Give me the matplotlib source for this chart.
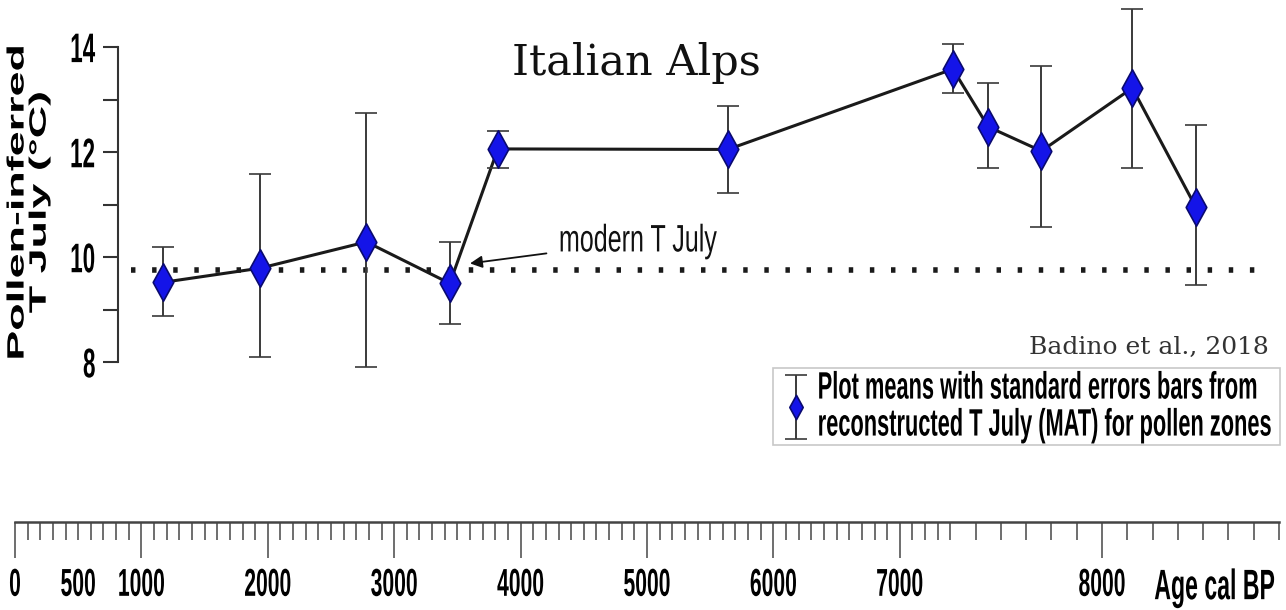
import numpy as np
import matplotlib
matplotlib.use('Agg')
import matplotlib.pyplot as plt
from matplotlib.patheffects import AbstractPathEffect
from matplotlib.path import Path
from matplotlib.transforms import Affine2D
from matplotlib.ticker import FuncFormatter
from matplotlib.legend_handler import HandlerErrorbar

# pollen zones: age (cal BP), mean July T and the ends of the standard error bars
age = [1170, 1940, 2780, 3440, 3820, 5640, 7410, 7550, 7760, 8120, 8370]
t_july = [9.52, 9.79, 10.29, 9.50, 12.06, 12.05, 13.58, 12.48, 12.02, 13.22, 10.96]
t_low = [8.88, 8.10, 7.90, 8.72, 11.70, 11.22, 13.12, 11.70, 10.57, 11.70, 9.47]
t_high = [10.19, 11.58, 12.75, 10.29, 12.40, 12.88, 14.06, 13.32, 13.64, 14.72, 12.52]
modern_t = 9.75

age_ticks = [0, 1000, 2000, 3000, 4000, 5000, 6000, 7000, 8000]
age_labels = ['0', '1000', '2000', '3000', '4000', '5000', '6000', '7000', '8000']
t_ticks = [8, 10, 12, 14]
t_minor = [9, 11, 13]

W, H = 1286, 610

# the age axis of the source is drawn twice as wide above 7400 BP
KNEE = 7400
def fwd(a):
    a = np.asarray(a, float)
    return np.where(a <= KNEE, a, KNEE + 2 * (a - KNEE))

def inv(p):
    p = np.asarray(p, float)
    return np.where(p <= KNEE, p, KNEE + (p - KNEE) / 2)


class Stretch(AbstractPathEffect):
    """scale the glyphs about their own centre (source figure was resized unevenly)"""
    def __init__(self, sx=1.0, sy=1.0):
        super().__init__()
        self.sx, self.sy = sx, sy

    def draw_path(self, renderer, gc, tpath, affine, rgbFace=None):
        bb = tpath.get_extents(affine)
        cx, cy = bb.x0 + bb.width / 2, bb.y0 + bb.height / 2
        st = Affine2D().translate(-cx, -cy).scale(self.sx, self.sy).translate(cx, cy)
        renderer.draw_path(gc, tpath, affine + st, rgbFace)


tall = [Stretch(0.95, 1.75)]
SANS = ['Liberation Sans', 'DejaVu Sans']

diamond = Path([(0, 1), (0.55, 0), (0, -1), (-0.55, 0), (0, 1)],
               [Path.MOVETO, Path.LINETO, Path.LINETO, Path.LINETO, Path.CLOSEPOLY])

fig = plt.figure(figsize=(W / 100, H / 100), dpi=100)

# main panel: left spine at x=118px, right end lines up with the age axis below
ax = fig.add_axes([118 / W, 1 - 400 / H, (1279 - 118) / W, 395 / H])
ax.set_xscale('function', functions=(fwd, inv))
ax.set_xlim(815, 8700)
ax.set_ylim(7.28, 14.8)
ax.patch.set_visible(False)
for s in ['top', 'right', 'bottom']:
    ax.spines[s].set_visible(False)
ax.spines['left'].set_bounds(8, 14)
ax.spines['left'].set_linewidth(1.5)
ax.spines['left'].set_color('#333333')
ax.set_xticks([])
ax.set_yticks(t_ticks)
ax.set_yticks(t_minor, minor=True)
ax.tick_params(axis='y', which='both', length=11, width=1.5, color='#333333', pad=5)
ax.tick_params(axis='y', which='major', labelsize=17)
for lab in ax.get_yticklabels():
    lab.set_fontfamily(SANS)
    lab.set_fontweight('bold')
    lab.set_path_effects(tall)

ax.set_ylabel('Pollen-inferred\nT July (°C)', fontsize=17, fontweight='bold',
              family=SANS, linespacing=0.95)
ax.yaxis.set_label_coords(-0.058, 0.5)
ax.yaxis.label.set_path_effects([Stretch(1.0, 1.9)])

ax.hlines(modern_t, 918, 8660, colors='#1a1a1a', linewidth=4,
          linestyles=[(0, (0.8, 3.0))], zorder=1)

ax.plot(age, t_july, color='#1a1a1a', lw=2.2, zorder=2)
yerr = [np.subtract(t_july, t_low), np.subtract(t_high, t_july)]
eb = ax.errorbar(age, t_july, yerr=yerr, linestyle='none', marker=diamond,
                 markersize=27, markerfacecolor='#1414e8', markeredgecolor='#0a0a70',
                 markeredgewidth=1.2, ecolor='#3a3a3a', elinewidth=1.4,
                 capsize=8, capthick=2, zorder=3,
                 label='Plot means with standard errors bars from\n'
                       'reconstructed T July (MAT) for pollen zones')

ann = ax.annotate('modern T July', xy=(3600, 9.88), xytext=(4270, 10.3),
                  fontsize=19, family=SANS, ha='left', va='center', color='#111111',
                  arrowprops=dict(arrowstyle='-|>', color='#111111', lw=1.3,
                                  mutation_scale=18, shrinkA=4, shrinkB=0))
ann.set_path_effects([Stretch(0.95, 1.45)])

leg = ax.legend(handles=[eb], loc='upper left', borderaxespad=0,
                bbox_to_anchor=(773 / W, 1 - 368 / H), bbox_transform=fig.transFigure,
                frameon=True, fancybox=False, edgecolor='#c8c8c8', framealpha=1,
                borderpad=0.4, handlelength=1.35, handletextpad=0.3, markerscale=0.65,
                handler_map={eb: HandlerErrorbar(xerr_size=0.45, yerr_size=1.45)},
                prop={'family': SANS, 'weight': 'bold', 'size': 15.7})
leg.get_frame().set_linewidth(1.2)
for t in leg.get_texts():
    t.set_linespacing(2.1)
    t.set_path_effects([Stretch(1.0, 1.75)])

# separate age axis along the bottom
axb = fig.add_axes([15 / W, 1 - 522 / H, 1264 / W, 0.0001])
axb.set_xscale('function', functions=(fwd, inv))
axb.set_xlim(0, 8700)
axb.set_yticks([])
for s in ['top', 'left', 'right']:
    axb.spines[s].set_visible(False)
axb.spines['bottom'].set_linewidth(1.8)
axb.spines['bottom'].set_color('#444444')
axb.set_xticks(age_ticks)
axb.set_xticklabels(age_labels)
axb.set_xticks(np.arange(0, 8701, 100), minor=True)
axb.xaxis.set_minor_formatter(FuncFormatter(lambda v, i: '500' if round(v) == 500 else ''))
axb.tick_params(axis='x', which='major', length=26, width=1.2, color='#555555',
                pad=11.5, labelsize=16)
axb.tick_params(axis='x', which='minor', length=13, width=1.2, color='#555555',
                pad=11.5 + 13, labelsize=16)
for lab in axb.get_xticklabels() + axb.get_xticklabels(minor=True):
    lab.set_fontfamily(SANS)
    lab.set_fontweight('bold')
    lab.set_path_effects(tall)

fig.text(1278 / W, 1 - 588 / H, 'Age cal BP', ha='right', va='center', fontsize=17.5,
         fontweight='bold', family=SANS, path_effects=tall)

fig.text(636 / W, 1 - 75 / H, 'Italian Alps', ha='center', va='baseline',
         fontsize=31, family='DejaVu Serif', color='#111111')
fig.text(1269 / W, 1 - 354 / H, 'Badino et al., 2018', ha='right', va='baseline',
         fontsize=18, family='DejaVu Serif', color='#333333')

fig.savefig('out.png', dpi=100)
